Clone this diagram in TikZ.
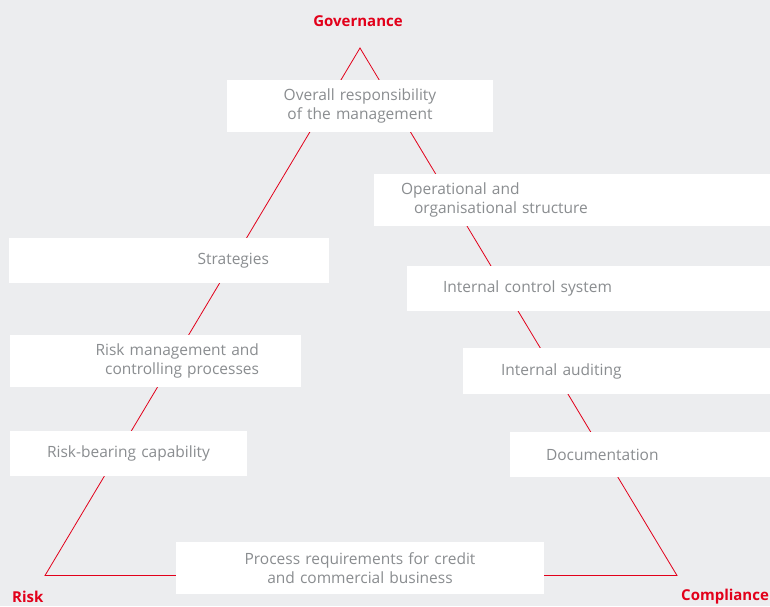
\documentclass[tikz,border=0pt]{standalone}
\usepackage{fontspec}
\setmainfont{Open Sans}
\usetikzlibrary{positioning}

\definecolor{bggray}{HTML}{ECEDEF}
\definecolor{txtgray}{HTML}{8A8D90}
\definecolor{sredred}{HTML}{E2001A}

\begin{document}
\begin{tikzpicture}
[every node/.style={inner sep=0pt},
 box/.style={rectangle, fill=white, inner ysep=0pt, text=txtgray, font=\fontsize{15.5}{18.5}\selectfont},
 corner/.style={text=sredred, font=\fontsize{15}{16}\selectfont\bfseries}]
\useasboundingbox (0pt, 0pt) rectangle (770pt, -606pt);
\fill [bggray] (0pt, 0pt) rectangle (770pt, -606pt);
\coordinate (top) at (360.0pt, -48.0pt);
\coordinate (left) at (45.0pt, -575.5pt);
\coordinate (right) at (677.0pt, -575.5pt);
\draw [line width=0.8pt, color=sredred, line join=miter] (top) -- (left) -- (right) -- cycle;
\node (gov) [corner] at (358.0pt, -21.0pt) {Governance};
\node (risk) [corner, anchor=west] at (12.0pt, -596.5pt) {Risk};
\node (comp) [corner, anchor=west] at (681.0pt, -596.5pt) {Compliance};
\node (overall) [box, minimum height=52pt, text width=266pt, align=center] at (360.0pt, -106.0pt) {Overall responsibility\\ of the management};
\node (oper) [box, minimum height=52pt, inner xsep=27pt, text width=342pt, align=left] at (572.0pt, -200.0pt) {Operational and\\ \hspace*{13pt}organisational structure};
\node (strat) [box, minimum height=45pt, inner xsep=60pt, text width=200pt, align=right] at (169.0pt, -260.5pt) {Strategies};
\node (ics) [box, minimum height=45pt, inner xsep=36pt, text width=291pt, align=left] at (588.5pt, -288.5pt) {Internal control system};
\node (riskmgmt) [box, minimum height=52pt, inner xsep=42pt, text width=207pt, align=right] at (155.5pt, -361.0pt) {Risk management and\\ controlling processes};
\node (audit) [box, minimum height=46pt, inner xsep=38pt, text width=231pt, align=left] at (616.5pt, -371.0pt) {Internal auditing};
\node (capab) [box, minimum height=45pt, text width=237pt, align=center] at (128.5pt, -453.5pt) {Risk-bearing capability};
\node (docu) [box, minimum height=45pt, inner xsep=36pt, text width=188pt, align=left] at (640.0pt, -454.5pt) {Documentation};
\node (process) [box, minimum height=52pt, text width=368pt, align=center] at (360.0pt, -568.0pt) {Process requirements for credit\\ and commercial business};
\end{tikzpicture}
\end{document}
